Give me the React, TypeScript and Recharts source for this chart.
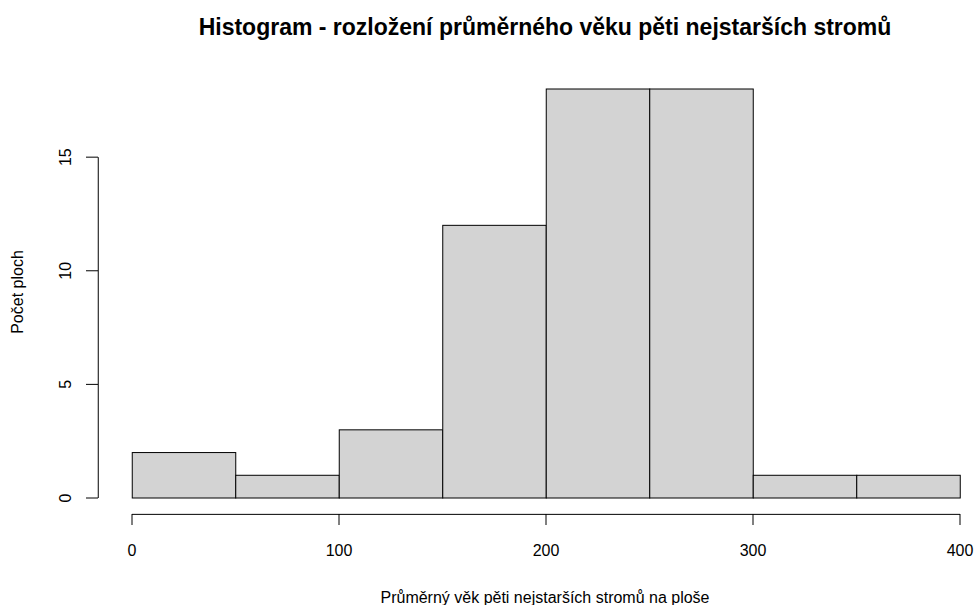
import { Bar, ComposedChart, ReferenceLine, XAxis, YAxis } from 'recharts';

const binStarts = [0, 50, 100, 150, 200, 250, 300, 350];
const binWidth = 50;
const counts = [2, 1, 3, 12, 18, 18, 1, 1];
const xTicks = [0, 100, 200, 300, 400];
const yTicks = [0, 5, 10, 15];

const title = 'Histogram - rozložení průměrného věku pěti nejstarších stromů';
const xLabel = 'Průměrný věk pěti nejstarších stromů na ploše';
const yLabel = 'Počet ploch';

const data = binStarts.map((s, i) => ({ mid: s + binWidth / 2, count: counts[i] }));

const W = 976;
const H = 605;
const margin = { top: 89, right: 16, bottom: 0, left: 32 };
const yAxisWidth = 100;
const xAxisHeight = 107;
const plotW = W - margin.left - margin.right - yAxisWidth;
const barSize = plotW / binStarts.length;

const font = '"Liberation Sans", Arial, sans-serif';

function XTick({ x, y, payload }: any) {
  return (
    <g>
      <line x1={x} x2={x} y1={y + 16} y2={y + 27} stroke="#000" />
      <text x={x} y={y + 58} textAnchor="middle" fontSize={16} fontFamily={font} fill="#000">
        {payload.value}
      </text>
    </g>
  );
}

function YTick({ x, y, payload }: any) {
  return (
    <g>
      <line x1={x - 46} x2={x - 34} y1={y} y2={y} stroke="#000" />
      <text
        x={x - 61}
        y={y}
        transform={`rotate(-90 ${x - 61} ${y})`}
        textAnchor="middle"
        fontSize={16}
        fontFamily={font}
        fill="#000"
      >
        {payload.value}
      </text>
    </g>
  );
}

// histogram bins touch each other: re-centre the rect on the bin mid with full bin width
function BinRect({ x, y, width, height }: any) {
  const cx = x + width / 2;
  return (
    <rect
      x={cx - barSize / 2}
      y={y}
      width={barSize}
      height={height}
      fill="#d3d3d3"
      stroke="#000"
      strokeWidth={1}
    />
  );
}

export default function App() {
  return (
    <div style={{ position: 'absolute', left: 0, top: 0, width: W, height: H, background: '#fff', fontFamily: font }}>
      <div
        style={{
          position: 'absolute',
          left: 0,
          width: W,
          top: 14,
          textAlign: 'center',
          paddingLeft: 114,
          boxSizing: 'border-box',
          fontWeight: 'bold',
          fontSize: 23,
          color: '#000',
        }}
      >
        {title}
      </div>
      <ComposedChart
        width={W}
        height={H}
        data={data}
        margin={margin}
        barCategoryGap={0}
        barGap={0}
      >
        <XAxis
          dataKey="mid"
          type="number"
          domain={[0, 400]}
          ticks={xTicks}
          axisLine={false}
          tickLine={false}
          tickSize={0}
          tickMargin={0}
          height={xAxisHeight}
          tick={<XTick />}
          interval={0}
        />
        <YAxis
          type="number"
          domain={[0, 18]}
          ticks={yTicks}
          axisLine={false}
          tickLine={false}
          tickSize={0}
          tickMargin={0}
          width={yAxisWidth}
          tick={<YTick />}
          interval={0}
        />
        <Bar dataKey="count" shape={<BinRect />} isAnimationActive={false} />
        <ReferenceLine
          segment={[{ x: 0, y: -0.72 }, { x: 400, y: -0.72 }]}
          stroke="#000"
          ifOverflow="visible"
        />
        <ReferenceLine
          segment={[{ x: -16.3, y: 0 }, { x: -16.3, y: 15 }]}
          stroke="#000"
          ifOverflow="visible"
        />
      </ComposedChart>
      <div
        style={{
          position: 'absolute',
          left: 0,
          width: W,
          top: 589,
          textAlign: 'center',
          paddingLeft: 114,
          boxSizing: 'border-box',
          fontSize: 16,
          color: '#000',
          whiteSpace: 'nowrap',
        }}
      >
        {xLabel}
      </div>
      <div
        style={{
          position: 'absolute',
          left: 18,
          top: 292,
          transform: 'translate(-50%, -50%) rotate(-90deg)',
          whiteSpace: 'nowrap',
          fontSize: 16,
          color: '#000',
        }}
      >
        {yLabel}
      </div>
    </div>
  );
}
